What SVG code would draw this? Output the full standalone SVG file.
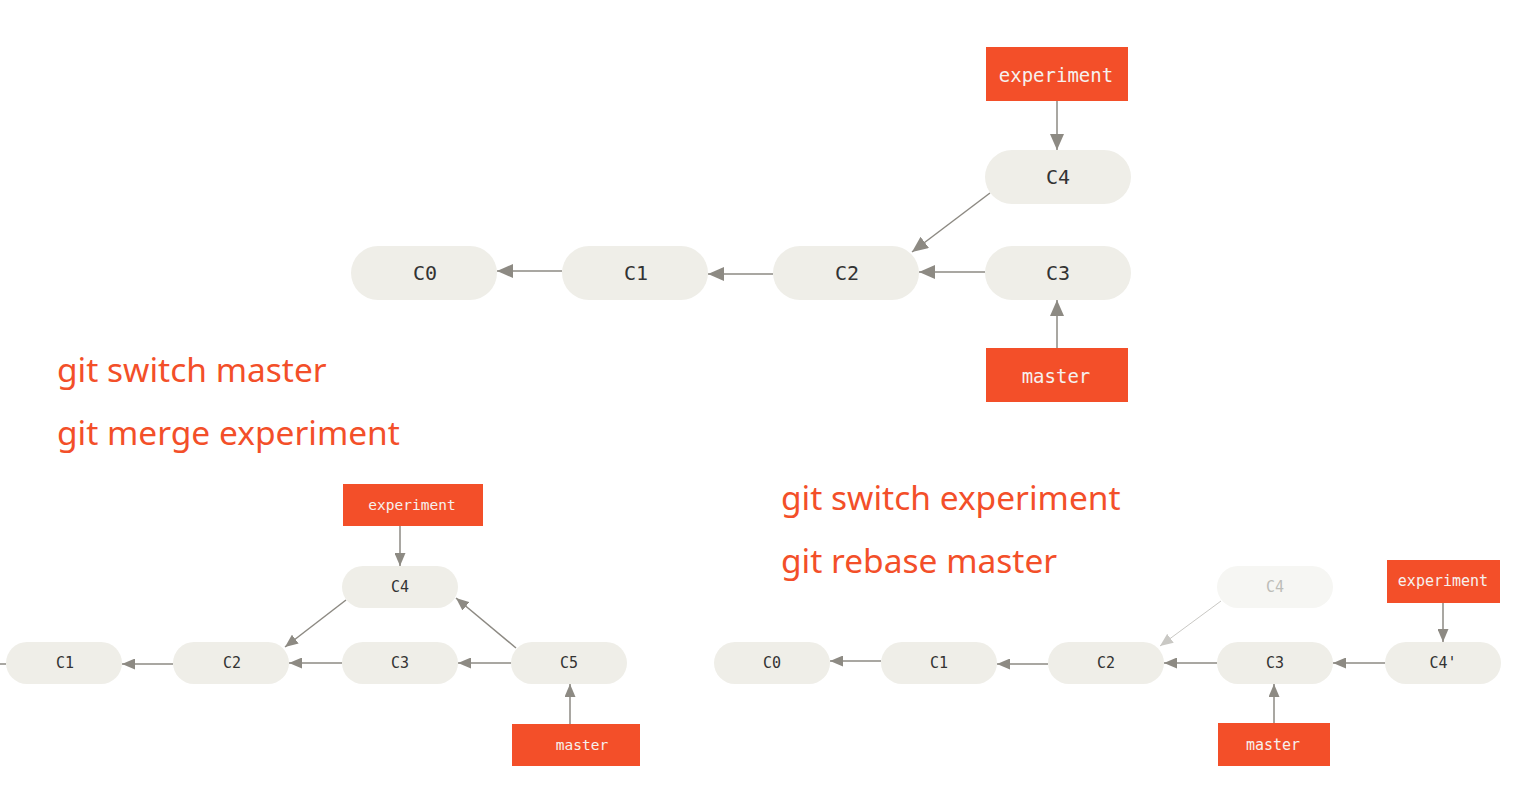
<svg xmlns="http://www.w3.org/2000/svg" width="1517" height="805" viewBox="0 0 1517 805">
<style>
.node{fill:#efeee8}
.ghost{fill:#f6f6f3}
.ntxt{font-family:"DejaVu Sans Mono","Liberation Mono",monospace;fill:#333;text-anchor:middle;dominant-baseline:central}
.gtxt{font-family:"DejaVu Sans Mono","Liberation Mono",monospace;fill:#bdbdb8;text-anchor:middle;dominant-baseline:central}
.br{fill:#f34f29}
.btxt{font-family:"DejaVu Sans Mono","Liberation Mono",monospace;fill:#f6f1ee;text-anchor:middle;dominant-baseline:central}
.cmd{font-family:"Noto Sans","Open Sans",sans-serif;fill:#f34f29;font-size:33.5px}
.e{stroke:#8d8a83;stroke-width:1.5;fill:none}
.eg{stroke:#c9c8c4;stroke-width:1;fill:none}
</style>
<defs>
<marker id="aL" markerUnits="userSpaceOnUse" markerWidth="16" markerHeight="14" refX="16" refY="7" orient="auto"><path d="M0,0 L16,7 L0,14 Z" fill="#8d8a83"/></marker>
<marker id="aS" markerUnits="userSpaceOnUse" markerWidth="13" markerHeight="11" refX="13" refY="5.5" orient="auto"><path d="M0,0 L13,5.5 L0,11 Z" fill="#8d8a83"/></marker>
<marker id="aG" markerUnits="userSpaceOnUse" markerWidth="13" markerHeight="11" refX="13" refY="5.5" orient="auto"><path d="M0,0 L13,5.5 L0,11 Z" fill="#c9c8c4"/></marker>
</defs>
<rect width="1517" height="805" fill="#ffffff"/>

<g id="commands">
<text class="cmd" x="57" y="382">git switch master</text>
<text class="cmd" x="57" y="445">git merge experiment</text>
<text class="cmd" x="781" y="510">git switch experiment</text>
<text class="cmd" x="781" y="573">git rebase master</text>
</g>

<g id="connectors">
<!-- top -->
<line class="e" x1="562" y1="271" x2="497" y2="271" marker-end="url(#aL)"/>
<line class="e" x1="773" y1="274" x2="708" y2="274" marker-end="url(#aL)"/>
<line class="e" x1="985" y1="272" x2="919" y2="272" marker-end="url(#aL)"/>
<line class="e" x1="990" y1="193" x2="912" y2="252" marker-end="url(#aL)"/>
<line class="e" x1="1057" y1="101" x2="1057" y2="150" marker-end="url(#aL)"/>
<line class="e" x1="1057" y1="348" x2="1057" y2="300" marker-end="url(#aL)"/>
<!-- bottom left -->
<line class="e" x1="0" y1="664" x2="6" y2="664"/>
<line class="e" x1="173" y1="664" x2="122" y2="664" marker-end="url(#aS)"/>
<line class="e" x1="342" y1="663" x2="289" y2="663" marker-end="url(#aS)"/>
<line class="e" x1="511" y1="663" x2="458" y2="663" marker-end="url(#aS)"/>
<line class="e" x1="346" y1="600" x2="285" y2="647" marker-end="url(#aS)"/>
<line class="e" x1="516" y1="648" x2="456" y2="598" marker-end="url(#aS)"/>
<line class="e" x1="400" y1="526" x2="400" y2="566" marker-end="url(#aS)"/>
<line class="e" x1="570" y1="724" x2="570" y2="684" marker-end="url(#aS)"/>
<!-- bottom right -->
<line class="e" x1="881" y1="661" x2="830" y2="661" marker-end="url(#aS)"/>
<line class="e" x1="1048" y1="664" x2="997" y2="664" marker-end="url(#aS)"/>
<line class="e" x1="1217" y1="663" x2="1164" y2="663" marker-end="url(#aS)"/>
<line class="e" x1="1385" y1="663" x2="1333" y2="663" marker-end="url(#aS)"/>
<line class="eg" x1="1221" y1="601" x2="1160" y2="646" marker-end="url(#aG)"/>
<line class="e" x1="1443" y1="603" x2="1443" y2="642" marker-end="url(#aS)"/>
<line class="e" x1="1274" y1="723" x2="1274" y2="684" marker-end="url(#aS)"/>
</g>

<!-- top diagram -->
<g id="t-C0"><rect class="node" x="351" y="246" width="146" height="54" rx="27"/><text class="ntxt" x="425" y="273" font-size="20">C0</text></g>
<g id="t-C1"><rect class="node" x="562" y="246" width="146" height="54" rx="27"/><text class="ntxt" x="636" y="273" font-size="20">C1</text></g>
<g id="t-C2"><rect class="node" x="773" y="246" width="146" height="54" rx="27"/><text class="ntxt" x="847" y="273" font-size="20">C2</text></g>
<g id="t-C3"><rect class="node" x="985" y="246" width="146" height="54" rx="27"/><text class="ntxt" x="1058" y="273" font-size="20">C3</text></g>
<g id="t-C4"><rect class="node" x="985" y="150" width="146" height="54" rx="27"/><text class="ntxt" x="1058" y="177" font-size="20">C4</text></g>
<g id="t-experiment"><rect class="br" x="986" y="47" width="142" height="54"/><text class="btxt" x="1056" y="75" font-size="19">experiment</text></g>
<g id="t-master"><rect class="br" x="986" y="348" width="142" height="54"/><text class="btxt" x="1056" y="376" font-size="19">master</text></g>

<!-- bottom left diagram -->
<g id="m-C1"><rect class="node" x="6" y="642" width="116" height="42" rx="21"/><text class="ntxt" x="65" y="663" font-size="15">C1</text></g>
<g id="m-C2"><rect class="node" x="173" y="642" width="116" height="42" rx="21"/><text class="ntxt" x="232" y="663" font-size="15">C2</text></g>
<g id="m-C3"><rect class="node" x="342" y="642" width="116" height="42" rx="21"/><text class="ntxt" x="400" y="663" font-size="15">C3</text></g>
<g id="m-C5"><rect class="node" x="511" y="642" width="116" height="42" rx="21"/><text class="ntxt" x="569" y="663" font-size="15">C5</text></g>
<g id="m-C4"><rect class="node" x="342" y="566" width="116" height="42" rx="21"/><text class="ntxt" x="400" y="587" font-size="15">C4</text></g>
<g id="m-experiment"><rect class="br" x="343" y="484" width="140" height="42"/><text class="btxt" x="412" y="505" font-size="14.5">experiment</text></g>
<g id="m-master"><rect class="br" x="512" y="724" width="128" height="42"/><text class="btxt" x="582" y="745" font-size="14.5">master</text></g>

<!-- bottom right diagram -->
<g id="r-C0"><rect class="node" x="714" y="642" width="116" height="42" rx="21"/><text class="ntxt" x="772" y="663" font-size="15">C0</text></g>
<g id="r-C1"><rect class="node" x="881" y="642" width="116" height="42" rx="21"/><text class="ntxt" x="939" y="663" font-size="15">C1</text></g>
<g id="r-C2"><rect class="node" x="1048" y="642" width="116" height="42" rx="21"/><text class="ntxt" x="1106" y="663" font-size="15">C2</text></g>
<g id="r-C3"><rect class="node" x="1217" y="642" width="116" height="42" rx="21"/><text class="ntxt" x="1275" y="663" font-size="15">C3</text></g>
<g id="r-C4p"><rect class="node" x="1385" y="642" width="116" height="42" rx="21"/><text class="ntxt" x="1443" y="663" font-size="15">C4'</text></g>
<g id="r-C4"><rect class="ghost" x="1217" y="566" width="116" height="42" rx="21"/><text class="gtxt" x="1275" y="587" font-size="15">C4</text></g>
<g id="r-experiment"><rect class="br" x="1387" y="560" width="113" height="43"/><text class="btxt" x="1443" y="581" font-size="15">experiment</text></g>
<g id="r-master"><rect class="br" x="1218" y="723" width="112" height="43"/><text class="btxt" x="1273" y="745" font-size="15">master</text></g>
</svg>
